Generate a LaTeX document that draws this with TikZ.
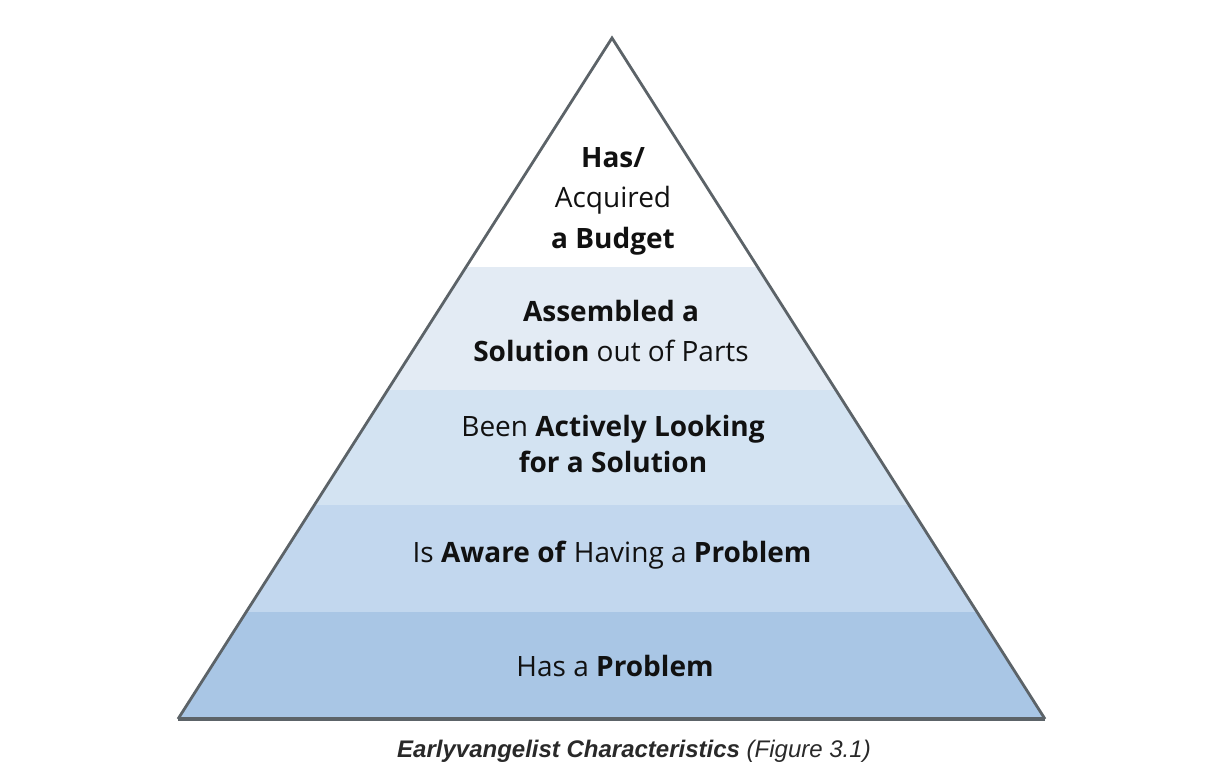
\documentclass[tikz,border=0pt]{standalone}
\usepackage{fontspec}
\setmainfont{Open Sans}
\newfontfamily\capfont{Liberation Sans}
\definecolor{bandA}{HTML}{FFFFFF}
\definecolor{bandB}{HTML}{E3EBF4}
\definecolor{bandC}{HTML}{D3E3F2}
\definecolor{bandD}{HTML}{C2D7EE}
\definecolor{bandE}{HTML}{A9C6E5}
\definecolor{edge}{HTML}{5C6368}
\definecolor{ink}{HTML}{111111}
\begin{document}
\begin{tikzpicture}[x=1pt,y=-1pt,
  lbl/.style={text=ink,font=\fontsize{28}{40.5}\selectfont,align=center,inner sep=0pt},
  captext/.style={text=ink!90,font=\capfont\fontsize{24}{28}\selectfont\itshape,inner sep=0pt}]
\useasboundingbox (0,0) rectangle (1222,775);
\coordinate (apex) at (612,38);
\coordinate (bl) at (178,719);
\coordinate (br) at (1045,719);
\begin{scope}
  \clip (apex) -- (bl) -- (br) -- cycle;
  \fill[bandA] (150,30) rectangle (1070,267);
  \fill[bandB] (150,267) rectangle (1070,390);
  \fill[bandC] (150,390) rectangle (1070,505);
  \fill[bandD] (150,505) rectangle (1070,612);
  \fill[bandE] (150,612) rectangle (1070,720);
\end{scope}
\draw[edge,line width=2.8pt,line join=miter] (bl) -- (apex) -- (br);
\draw[edge,line width=3.8pt] (bl) -- (br);
\node[lbl] (t1) at (613,201) {\textbf{Has/}\\Acquired\\\textbf{a Budget}};
\node[lbl] (t2) at (611,331) {\textbf{Assembled a}\\\textbf{Solution} out of Parts};
\node[lbl,font=\fontsize{28}{36}\selectfont] (t3) at (613,444) {Been \textbf{Actively Looking}\\\textbf{for a Solution}};
\node[lbl] (t4) at (612,555) {Is \textbf{Aware of} Having a \textbf{Problem}};
\node[lbl] (t5) at (615,666) {Has a \textbf{Problem}};
\node[captext] (c) at (634,751) {\textbf{Earlyvangelist Characteristics} (Figure 3.1)};
\end{tikzpicture}
\end{document}
